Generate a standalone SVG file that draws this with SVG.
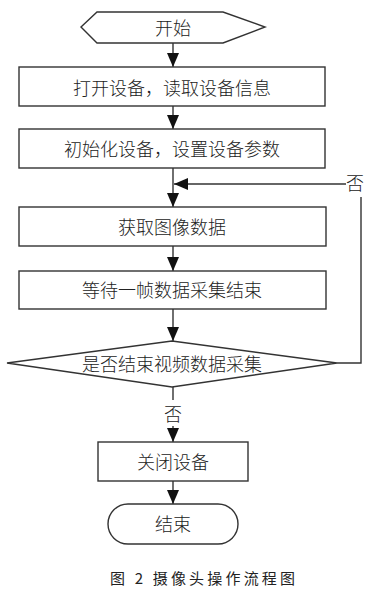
<svg xmlns="http://www.w3.org/2000/svg" width="377" height="600" viewBox="0 0 377 600">
<style>
.box{fill:#fff;stroke:#333;stroke-width:1.4}
.ln{fill:none;stroke:#333;stroke-width:1.4}
.ar{marker-end:url(#ah)}
text{font-family:"Noto Sans CJK SC","Noto Sans CJK JP",sans-serif;font-size:18px;fill:#222;text-anchor:middle;dominant-baseline:central;font-weight:300}
.cap{font-size:15px;text-anchor:start;font-weight:400}
</style>
<defs>
<marker id="ah" markerUnits="userSpaceOnUse" markerWidth="14" markerHeight="12" viewBox="0 0 14 12" refX="14" refY="6" orient="auto">
<path d="M0,0 L14,6 L0,12 z" fill="#111"/>
</marker>
</defs>
<rect width="377" height="600" fill="#fff"/>
<g id="connectors">
<line class="ln ar" x1="173" y1="43" x2="173" y2="67"/>
<line class="ln ar" x1="173" y1="106" x2="173" y2="129"/>
<line class="ln ar" x1="173" y1="168" x2="173" y2="207"/>
<line class="ln ar" x1="173" y1="246" x2="173" y2="271"/>
<line class="ln ar" x1="173" y1="309" x2="173" y2="341"/>
<line class="ln" x1="173" y1="387" x2="173" y2="400"/>
<line class="ln ar" x1="173" y1="426" x2="173" y2="442"/>
<line class="ln ar" x1="173" y1="481" x2="173" y2="504"/>
<polyline class="ln" points="337,363 361,363 361,197"/>
<line class="ln ar" x1="346" y1="184" x2="174" y2="184"/>
<text x="355" y="182" font-size="17">否</text>
<text x="173" y="413" font-size="17">否</text>
</g>
<g id="start">
<polygon class="box" points="81,27 97,12 223,12 265,27 223,43 97,43"/>
<text x="173" y="27">开始</text>
</g>
<g id="open">
<rect class="box" x="19" y="67" width="306" height="39"/>
<text x="172" y="87">打开设备，读取设备信息</text>
</g>
<g id="init">
<rect class="box" x="19" y="129" width="306" height="39"/>
<text x="172" y="148">初始化设备，设置设备参数</text>
</g>
<g id="get">
<rect class="box" x="19" y="207" width="307" height="39"/>
<text x="172" y="226">获取图像数据</text>
</g>
<g id="wait">
<rect class="box" x="19" y="271" width="307" height="38"/>
<text x="172" y="289">等待一帧数据采集结束</text>
</g>
<g id="decide">
<polygon class="box" points="7,363 172,341 337,363 172,387"/>
<text x="172" y="363">是否结束视频数据采集</text>
</g>
<g id="close">
<rect class="box" x="98" y="442" width="150" height="39"/>
<text x="173" y="461">关闭设备</text>
</g>
<g id="end">
<rect class="box" x="108" y="504" width="130" height="40" rx="20" ry="20"/>
<text x="173" y="523">结束</text>
</g>
<text class="cap" x="110" y="577" textLength="185" lengthAdjust="spacing">图 2 摄像头操作流程图</text>
</svg>
